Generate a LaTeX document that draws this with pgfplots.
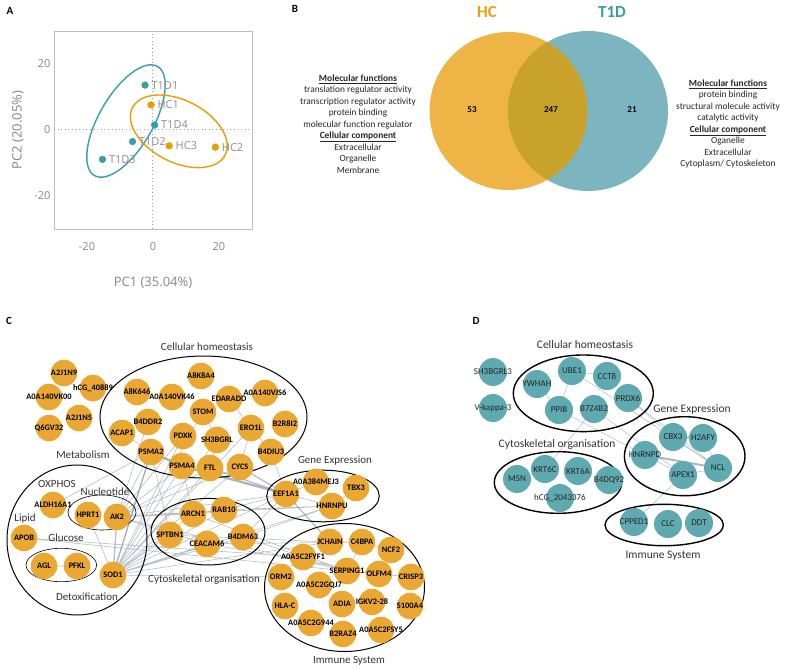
\documentclass[border=0pt]{standalone}
\usepackage{pgfplots}
\pgfplotsset{compat=1.18}
\usepackage{pgfplotstable}
\usepackage{fontspec}
\setmainfont{Carlito}
\newfontfamily\osans{Open Sans}
\definecolor{ateal}{HTML}{3A9EA6}
\definecolor{aorange}{HTML}{E69F00}
\definecolor{framegray}{HTML}{BEBEBE}
\definecolor{labgray}{HTML}{858585}
\definecolor{ptgray}{HTML}{8E8E8E}
\definecolor{vorange}{HTML}{EEB445}
\definecolor{vteal}{HTML}{7CB5BF}
\definecolor{vmix}{HTML}{C9A22B}
\definecolor{corange}{HTML}{EAA832}
\definecolor{cteal}{HTML}{5FA9B1}
\definecolor{edgec}{HTML}{7A889B}
\definecolor{txt}{HTML}{333333}

\pgfplotstableread{
x y label
-2.4 13.6 T1D1
0.5 1.5 T1D4
-6.2 -3.5 T1D2
-15.3 -8.9 T1D3
}\pcaT
\pgfplotstableread{
x y label
-0.6 7.6 HC1
4.9 -4.8 HC3
18.9 -5.2 HC2
}\pcaH

\pgfplotstableread{
x y label
64 373 A2J1N9
93 388 hCG\_40889
49 397 A0A140VK00
79 418 A2J1N5
49 428 Q6GV32
201 376 A8K8A4
137 392 A8K646
172 397 A0A140VK46
229 399 EDARADD
265 393 A0A140VJS6
203 412 STOM
148 422 B4DDR2
285 424 B2R8I2
122 433 ACAP1
183 436 PDXK
217 440 SH3BGRL
251 428 ERO1L
151 452 PSMA2
271 452 B4DIU3
182 466 PSMA4
210 468 FTL
240 467 CYCS
53 505 ALDH16A1
88 515 HPRT1
117 517 AK2
24 538 APOB
44 566 AGL
77 566 PFKL
113 575 SOD1
193 514 ARCN1
224 510 RAB10
170 535 SPTBN1
207 544 CEACAM6
243 537 B4DM63
286 494 EEF1A1
316 482 A0A384MEJ3
356 488 TBX3
332 506 HNRNPU
330 542 JCHAIN
362 542 C4BPA
391 550 NCF2
303 557 A0A5C2FYF1
281 577 ORM2
347 571 SERPING1
379 574 OLFM4
411 577 CRISP3
319 585 A0A5C2GQJ7
285 606 HLA-C
342 604 ADIA
372 602 IGKV2-28
410 606 S100A4
311 623 A0A5C2G944
343 634 B2RAZ4
381 630 A0A5C2FSY5
}\netC

\pgfplotstableread{
x y label
493 372 SH3BGRL3
493 408 V-kappa-3
572 371 UBE1
607 376 CCT8
537 384 YWHAH
628 398 PRDX6
559 410 PPIB
594 409 B7Z4B2
673 437 CBX3
703 438 H2AFY
645 455 HNRNPD
718 468 NCL
683 475 APEX1
517 479 MSN
545 469 KRT6C
578 471 KRT6A
609 480 B4DQ92
560 498 hCG\_2043376
634 522 CPPED1
668 524 CLC
699 523 DDT
}\netD

\begin{document}
\begin{tikzpicture}
\useasboundingbox (0,0) rectangle (785pt,669pt);

% ---------------- Overlay (ellipses of A, B, C, D) in pixel coordinates ----------------
\begin{axis}[at={(0,0)}, anchor=south west, width=785pt, height=669pt, scale only axis,
  xmin=0, xmax=785, ymin=0, ymax=669, y dir=reverse, hide axis, clip=false]

% Panel A: confidence ellipses (pixel frame)
\draw[ateal, line width=1.4pt] (axis cs:126,121) ellipse [x radius=63pt, y radius=27pt, rotate=60];
\draw[aorange, line width=1.4pt] (axis cs:178.8,131.3) ellipse [x radius=52pt, y radius=31pt, rotate=-27];

% Panel B: Venn
\fill[vorange] (axis cs:508.5,111) circle [radius=79];
\fill[vteal] (axis cs:588,111) circle [radius=80];
\begin{scope}
\clip (axis cs:508.5,111) circle [radius=79];
\fill[vmix] (axis cs:588,111) circle [radius=80];
\end{scope}
\node[font=\fontsize{17}{17}\selectfont\bfseries, text=aorange!95!white] at (axis cs:487,12) {HC};
\node[font=\fontsize{17}{17}\selectfont\bfseries, text=ateal] at (axis cs:612,12) {T1D};
\node[font=\fontsize{9}{9}\selectfont\bfseries] at (axis cs:472,110) {53};
\node[font=\fontsize{9}{9}\selectfont\bfseries] at (axis cs:551,110) {247};
\node[font=\fontsize{9}{9}\selectfont\bfseries] at (axis cs:632,110) {21};
\node[align=center, font=\fontsize{9.4}{11.5}\selectfont, text=black!85] at (axis cs:358,124)
 {\underline{\textbf{Molecular functions}}\\ translation regulator activity\\ transcription regulator activity\\ protein binding\\ molecular function regulator\\ \underline{\textbf{Cellular component}}\\ Extracellular\\ Organelle\\ Membrane};
\node[align=center, font=\fontsize{9.4}{11.5}\selectfont, text=black!85] at (axis cs:728,124)
 {\underline{\textbf{Molecular functions}}\\ protein binding\\ structural molecule activity\\ catalytic activity\\ \underline{\textbf{Cellular component}}\\ Oganelle\\ Extracellular\\ Cytoplasm/ Cytoskeleton};

% Panel C: edges
\addplot[edgec, line width=0.6pt, opacity=0.55, unbounded coords=jump, mark=none] coordinates {
(251,428)(271,452) (nan,nan)
(251,428)(229,399) (nan,nan)
(251,428)(240,467) (nan,nan)
(271,452)(286,494) (nan,nan)
(217,440)(210,468) (nan,nan)
(183,436)(113,575) (nan,nan)
(151,452)(113,575) (nan,nan)
(182,466)(113,575) (nan,nan)
(210,468)(113,575) (nan,nan)
(240,467)(113,575) (nan,nan)
(286,494)(113,575) (nan,nan)
(217,440)(113,575) (nan,nan)
(203,412)(113,575) (nan,nan)
(251,428)(113,575) (nan,nan)
(151,452)(117,517) (nan,nan)
(182,466)(117,517) (nan,nan)
(183,436)(117,517) (nan,nan)
(210,468)(117,517) (nan,nan)
(240,467)(117,517) (nan,nan)
(286,494)(117,517) (nan,nan)
(148,422)(117,517) (nan,nan)
(193,514)(113,575) (nan,nan)
(224,510)(113,575) (nan,nan)
(170,535)(113,575) (nan,nan)
(207,544)(113,575) (nan,nan)
(243,537)(113,575) (nan,nan)
(332,506)(113,575) (nan,nan)
(330,542)(113,575) (nan,nan)
(113,575)(88,515) (nan,nan)
(24,538)(347,571) (nan,nan)
(24,538)(303,557) (nan,nan)
(117,517)(193,514) (nan,nan)
(117,517)(224,510) (nan,nan)
(117,517)(207,544) (nan,nan)
(117,517)(347,571) (nan,nan)
(117,517)(332,506) (nan,nan)
(193,514)(224,510) (nan,nan)
(193,514)(182,466) (nan,nan)
(224,510)(286,494) (nan,nan)
(243,537)(286,494) (nan,nan)
(207,544)(379,574) (nan,nan)
(243,537)(303,557) (nan,nan)
(170,535)(330,542) (nan,nan)
(207,544)(362,542) (nan,nan)
(193,514)(347,571) (nan,nan)
(286,494)(332,506) (nan,nan)
(286,494)(316,482) (nan,nan)
(332,506)(356,488) (nan,nan)
(330,542)(362,542) (nan,nan)
(362,542)(391,550) (nan,nan)
(362,542)(347,571) (nan,nan)
(347,571)(379,574) (nan,nan)
(379,574)(411,577) (nan,nan)
(347,571)(303,557) (nan,nan)
(332,506)(243,537) (nan,nan)
(224,510)(332,506) (nan,nan)
(170,535)(151,452) (nan,nan)
(44,566)(77,566) (nan,nan)
(88,515)(117,517) (nan,nan)
(113,575)(281,577) (nan,nan)
(53,505)(151,452) (nan,nan)
(203,412)(217,440) (nan,nan)
(122,433)(151,452)
};
\addplot[edgec, line width=1.3pt, opacity=0.55, unbounded coords=jump, mark=none] coordinates {
(113,575)(117,517) (nan,nan)
(113,575)(151,452) (nan,nan)
(286,494)(330,542) (nan,nan)
(240,467)(286,494) (nan,nan)
(210,468)(286,494)
};
\addplot[edgec, line width=2.2pt, opacity=0.65, unbounded coords=jump, mark=none] coordinates {
(151,452)(182,466) (nan,nan)
(182,466)(286,494)
};

% Panel C: group ellipses
\draw[black, line width=1pt] (axis cs:203.5,417) ellipse [x radius=103.5, y radius=61];
\draw[black, line width=1pt] (axis cs:77,540) ellipse [x radius=70, y radius=75];
\draw[black, line width=0.6pt] (axis cs:102,512.5) ellipse [x radius=34, y radius=17.5];
\draw[black, line width=0.6pt] (axis cs:61.3,565) ellipse [x radius=35.3, y radius=16.7];
\draw[black, line width=1pt] (axis cs:208,531.7) ellipse [x radius=57, y radius=33.3];
\draw[black, line width=1pt] (axis cs:323,496) ellipse [x radius=56.3, y radius=25.8];
\draw[black, line width=1pt] (axis cs:344.5,587.5) ellipse [x radius=80, y radius=64];

% Panel C: nodes
\addplot[only marks, color=corange, mark=*, mark size=13.3pt, mark options={fill=corange, draw opacity=0},
  nodes near coords, point meta=explicit symbolic, nodes near coords align={center},
  every node near coord/.append style={font=\fontsize{8.4}{9}\selectfont\bfseries, text=black, inner sep=0pt}]
  table[x=x, y=y, meta=label] {\netC};

% Panel C: group labels
\begin{scope}[every node/.style={font=\fontsize{11}{12}\selectfont, text=txt}]
\node at (axis cs:207,347) {Cellular homeostasis};
\node at (axis cs:83,455) {Metabolism};
\node at (axis cs:335,461) {Gene Expression};
\node at (axis cs:57,484) {OXPHOS};
\node at (axis cs:105,492) {Nucleotide};
\node at (axis cs:25,519) {Lipid};
\node at (axis cs:66,538) {Glucose};
\node at (axis cs:87,597) {Detoxification};
\node at (axis cs:204,580) {Cytoskeletal organisation};
\node at (axis cs:349,661) {Immune System};
\end{scope}

% Panel D: edges
\addplot[edgec, line width=0.6pt, opacity=0.5, unbounded coords=jump, mark=none] coordinates {
(537,384)(559,410) (nan,nan)
(572,371)(559,410) (nan,nan)
(572,371)(607,376) (nan,nan)
(572,371)(718,468) (nan,nan)
(628,398)(718,468) (nan,nan)
(628,398)(673,437) (nan,nan)
(594,409)(683,475) (nan,nan)
(559,410)(645,455) (nan,nan)
(673,437)(718,468) (nan,nan)
(703,438)(718,468) (nan,nan)
(683,475)(718,468) (nan,nan)
(645,455)(683,475) (nan,nan)
(683,475)(634,522) (nan,nan)
(594,409)(545,469)
};
\addplot[edgec, line width=1.8pt, opacity=0.65, unbounded coords=jump, mark=none] coordinates {
(673,437)(703,438) (nan,nan)
(645,455)(718,468)
};

% Panel D: ellipses
\draw[black, line width=1.4pt] (axis cs:583.3,393.3) ellipse [x radius=70, y radius=38.3];
\draw[black, line width=1.4pt] (axis cs:684.7,456.2) ellipse [x radius=60.3, y radius=39.5];
\draw[black, line width=1.4pt] (axis cs:558,482.5) ellipse [x radius=63.7, y radius=30.8];
\draw[black, line width=1.4pt] (axis cs:664.2,525) ellipse [x radius=59.2, y radius=20.7];

% Panel D: nodes
\addplot[only marks, color=cteal, mark=*, mark size=14pt, mark options={fill=cteal, draw opacity=0},
  nodes near coords, point meta=explicit symbolic, nodes near coords align={center},
  every node near coord/.append style={font=\fontsize{9}{9}\selectfont, text=black!85, inner sep=0pt}]
  table[x=x, y=y, meta=label] {\netD};

\begin{scope}[every node/.style={font=\fontsize{11.5}{12}\selectfont, text=txt}]
\node at (axis cs:585,345) {Cellular homeostasis};
\node at (axis cs:692,409) {Gene Expression};
\node at (axis cs:557,444) {Cytoskeletal organisation};
\node at (axis cs:663,556) {Immune System};
\end{scope}

% Panel letters
\begin{scope}[every node/.style={font=\fontsize{11}{11}\selectfont\bfseries, text=black}]
\node at (axis cs:10,11) {A};
\node at (axis cs:295,9) {B};
\node at (axis cs:9,321) {C};
\node at (axis cs:476,321) {D};
\end{scope}
\end{axis}

% ---------------- Panel A ----------------
\begin{axis}[at={(54pt,440pt)}, anchor=south west, width=198pt, height=198pt, scale only axis,
  xmin=-30, xmax=30, ymin=-30, ymax=30,
  xtick={-20,0,20}, ytick={-20,0,20},
  axis line style={draw=framegray, line width=0.9pt},
  major tick length=0pt,
  /pgf/number format/assume math mode=true,
  tick label style={font=\osans\fontsize{11}{13}\selectfont, text=labgray},
  xticklabel style={yshift=-10pt},
  xlabel={PC1 (35.04\%)}, ylabel={PC2 (20.05\%)},
  label style={font=\osans\fontsize{13}{15}\selectfont, text=labgray},
  xlabel style={at={(axis description cs:0.5,-0.273)}, anchor=center},
  ylabel style={at={(axis description cs:-0.182,0.5)}, anchor=center},
]
\draw[labgray!80, line width=1pt, dash pattern=on 1pt off 2.6pt] (axis cs:0,-30) -- (axis cs:0,30);
\draw[labgray!80, line width=1pt, dash pattern=on 1pt off 2.6pt] (axis cs:-30,0) -- (axis cs:30,0);
\addplot[only marks, mark=*, mark size=3.4pt, color=ateal, mark options={draw=ateal, fill=ateal},
  nodes near coords, point meta=explicit symbolic, nodes near coords align={west},
  every node near coord/.append style={font=\osans\fontsize{11}{13}\selectfont, text=ptgray, xshift=3pt}]
  table[x=x, y=y, meta=label] {\pcaT};
\addplot[only marks, mark=*, mark size=3.4pt, color=aorange, mark options={draw=aorange, fill=aorange},
  nodes near coords, point meta=explicit symbolic, nodes near coords align={west},
  every node near coord/.append style={font=\osans\fontsize{11}{13}\selectfont, text=ptgray, xshift=3pt}]
  table[x=x, y=y, meta=label] {\pcaH};
\end{axis}
\end{tikzpicture}
\end{document}
